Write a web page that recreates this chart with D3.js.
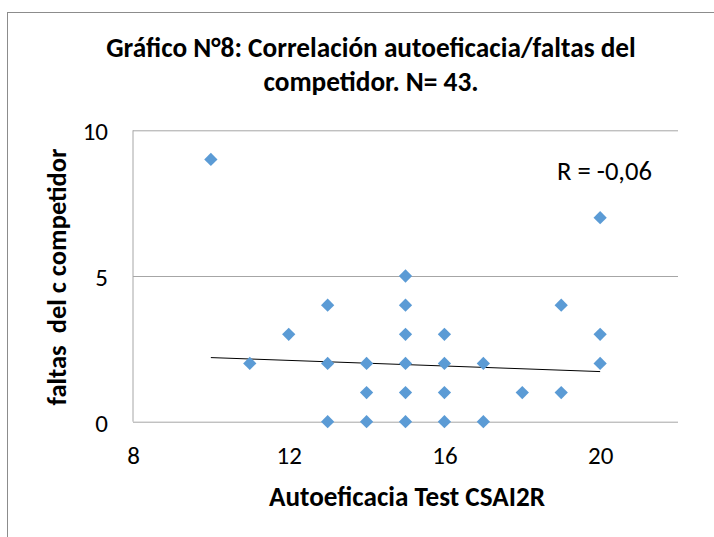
<!DOCTYPE html>
<html>
<head>
<meta charset="utf-8">
<script src="https://cdn.jsdelivr.net/npm/d3@7"></script>
<style>
  html, body { margin: 0; padding: 0; background: #fff; }
  svg { display: block; }
  text { font-family: Carlito, Lato, "Open Sans", sans-serif; fill: #000; }
</style>
</head>
<body>
<svg id="chart" width="714" height="537"></svg>
<script>
// ---- data ----
const autoeficacia = [10, 11, 12, 13, 13, 13, 14, 14, 14, 15, 15, 15, 15, 15, 15, 16, 16, 16, 16, 17, 17, 18, 19, 19, 20, 20, 20];
const faltas       = [ 9,  2,  3,  4,  2,  0,  2,  1,  0,  5,  4,  3,  2,  1,  0,  3,  2,  1,  0,  2,  0,  1,  4,  1,  7,  3,  2];
const trendX = [10, 20];
const trendY = [2.2, 1.72];
const xTicks = [8, 12, 16, 20];
const yTicks = [0, 5, 10];
const titleLines = ["Gráfico N°8: Correlación autoeficacia/faltas del", "competidor. N= 43."];
const xTitle = "Autoeficacia Test CSAI2R";
const yTitle = "faltas  del c competidor";
const rLabel = "R = -0,06";

// ---- helpers ----
function fitWidth(sel, target) {
  const node = sel.node();
  const fs = parseFloat(sel.attr("font-size"));
  const w = node.getComputedTextLength();
  if (w > 0) sel.attr("font-size", (fs * target / w).toFixed(2));
  return sel;
}

// ---- layout ----
const svg = d3.select("#chart");
const plot = { left: 133, right: 678, top: 130.3, bottom: 421.7 };
const x = d3.scaleLinear().domain([8, 22]).range([plot.left, plot.right]);
const y = d3.scaleLinear().domain([0, 10]).range([plot.bottom, plot.top]);

// outer chart border
svg.append("rect")
  .attr("x", 7.5).attr("y", 12.5)
  .attr("width", 720).attr("height", 540)
  .attr("fill", "none").attr("stroke", "#8c8c8c").attr("stroke-width", 1);

// gridlines (horizontal)
const gy = svg.append("g")
  .attr("transform", `translate(${plot.left},0)`)
  .call(d3.axisLeft(y).tickValues(yTicks).tickSize(-(plot.right - plot.left)).tickFormat(""));
gy.select(".domain").remove();
gy.selectAll(".tick line").attr("stroke", "#a6a6a6").attr("stroke-width", 1);

// y axis line
svg.append("line")
  .attr("x1", plot.left).attr("x2", plot.left)
  .attr("y1", plot.top).attr("y2", plot.bottom)
  .attr("stroke", "#a6a6a6").attr("stroke-width", 1);

// y tick labels
const yl = svg.append("g")
  .attr("transform", `translate(${plot.left},0)`)
  .call(d3.axisLeft(y).tickValues(yTicks).tickSize(0).tickPadding(25).tickFormat(d3.format("d")));
yl.select(".domain").remove();
yl.selectAll("text").attr("font-size", 25).attr("font-family", "Carlito, Lato, sans-serif")
  .attr("fill", "#000").attr("dy", "0.38em");

// x tick labels
const xl = svg.append("g")
  .attr("transform", `translate(0,${plot.bottom})`)
  .call(d3.axisBottom(x).tickValues(xTicks).tickSize(0).tickPadding(25).tickFormat(d3.format("d")));
xl.select(".domain").remove();
xl.selectAll("text").attr("font-size", 25).attr("font-family", "Carlito, Lato, sans-serif")
  .attr("fill", "#000");

// trendline
svg.append("line")
  .attr("x1", x(trendX[0])).attr("y1", y(trendY[0]))
  .attr("x2", x(trendX[1])).attr("y2", y(trendY[1]))
  .attr("stroke", "#000").attr("stroke-width", 1);

// points
const diamond = d3.symbol().type(d3.symbolSquare).size(88);
svg.append("g").selectAll("path")
  .data(autoeficacia.map((d, i) => [d, faltas[i]]))
  .join("path")
  .attr("d", diamond)
  .attr("transform", d => `translate(${x(d[0])},${y(d[1])}) rotate(45)`)
  .attr("fill", "#5b9bd5");

// R label
fitWidth(svg.append("text")
  .attr("x", 557).attr("y", 180)
  .attr("font-size", 22)
  .text(rLabel), 95);

// titles
const t1 = svg.append("text")
  .attr("x", 371).attr("y", 57)
  .attr("text-anchor", "middle")
  .attr("font-size", 22)
  .attr("font-weight", "bold")
  .text(titleLines[0]);
fitWidth(t1, 530);
svg.append("text")
  .attr("x", 371).attr("y", 91)
  .attr("text-anchor", "middle")
  .attr("font-size", t1.attr("font-size"))
  .attr("font-weight", "bold")
  .text(titleLines[1]);

fitWidth(svg.append("text")
  .attr("x", 407).attr("y", 506)
  .attr("text-anchor", "middle")
  .attr("font-size", 21)
  .attr("font-weight", "bold")
  .text(xTitle), 276);

fitWidth(svg.append("text")
  .attr("transform", "translate(66,277) rotate(-90)")
  .attr("text-anchor", "middle")
  .attr("font-size", 21)
  .attr("font-weight", "bold")
  .style("white-space", "pre")
  .text(yTitle), 257);
</script>
</body>
</html>
